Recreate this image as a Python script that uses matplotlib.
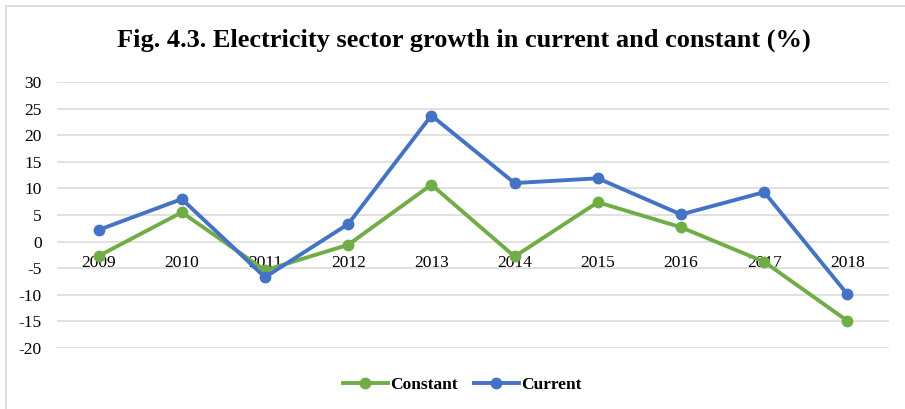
import matplotlib.pyplot as plt
from matplotlib.patches import Rectangle

years = ["2009", "2010", "2011", "2012", "2013", "2014", "2015", "2016", "2017", "2018"]
constant = [-2.7, 5.5, -5.4, -0.6, 10.7, -2.8, 7.4, 2.7, -3.8, -14.9]
current = [2.2, 8.0, -6.7, 3.3, 23.7, 11.0, 11.9, 5.1, 9.3, -9.9]
y_ticks = [30, 25, 20, 15, 10, 5, 0, -5, -10, -15, -20]

GREEN = "#70AD47"
BLUE = "#4472C4"
SERIF = ["Liberation Serif", "DejaVu Serif"]

W, H = 905, 409
fig = plt.figure(figsize=(W / 100, H / 100), dpi=100)

# chart-area border (only top and left edges fall inside the image)
fig.patches.append(Rectangle((6 / W, -0.1), 1.2, (H - 6) / H + 0.1,
                             transform=fig.transFigure, fill=False,
                             edgecolor="#D9D9D9", linewidth=1.2))

left, right, top, bottom = 57, 889, 82, 348
ax = fig.add_axes([left / W, 1 - bottom / H, (right - left) / W, (bottom - top) / H])

# category labels sit along the zero line
for s in ax.spines.values():
    s.set_visible(False)
ax.spines["bottom"].set_position(("data", 0))

x = list(range(len(years)))
ax.plot(x, constant, color=GREEN, linewidth=2.8, marker="o", markersize=7.5,
        label="Constant", solid_joinstyle="round", zorder=3)
ax.plot(x, current, color=BLUE, linewidth=2.8, marker="o", markersize=7.5,
        label="Current", solid_joinstyle="round", zorder=4)

ax.set_xlim(-0.5, len(years) - 0.5)
ax.set_ylim(-20, 30)
ax.set_yticks(y_ticks)
ax.set_yticklabels([str(v) for v in y_ticks], family=SERIF, fontsize=12.5)
ax.set_xticks(x)
ax.set_xticklabels(years, family=SERIF, fontsize=12.5)

ax.grid(axis="y", color="#D9D9D9", linewidth=1.1, zorder=0)
ax.set_axisbelow(True)
ax.tick_params(axis="both", length=0)
ax.tick_params(axis="x", pad=10)
ax.tick_params(axis="y", pad=11)

fig.text(0.513, 1 - 40 / H, "Fig. 4.3. Electricity sector growth in current and constant (%)",
         ha="center", va="center", family=SERIF, fontsize=19, fontweight="bold")

leg = fig.legend(loc="center", bbox_to_anchor=(0.511, 1 - 385 / H), ncol=2,
                 frameon=False, prop={"family": SERIF, "size": 12.5, "weight": "bold"},
                 handlelength=2.6, columnspacing=0.9, handletextpad=0.15)

fig.savefig("out.png", dpi=100)
